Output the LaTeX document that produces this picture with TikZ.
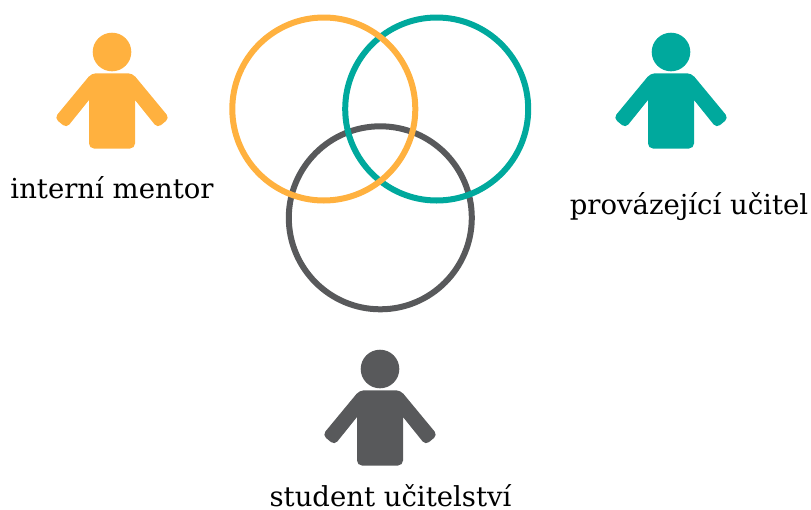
\documentclass[tikz,border=0pt]{standalone}
\usepackage{fontspec}
\setmainfont{Noto Sans}
\newfontfamily\lab{DejaVu Serif}
\definecolor{cO}{HTML}{FFB13F}
\definecolor{cT}{HTML}{00A99D}
\definecolor{cG}{HTML}{58595B}
\tikzset{
  ring/.style={draw=#1,line width=6pt,circle,minimum size=183pt,inner sep=0pt},
  labeltext/.style={font=\lab\fontsize{27.5pt}{32pt}\selectfont,text=black,inner sep=0pt,anchor=base}
}
\newcommand{\person}[3]{%
  \begin{scope}[shift={(#1,-#2)}]
  \fill[#3] (0,0) circle (19.3);
  \fill[#3,rounded corners=4.5] (-20.5,-21.3) -- (20.5,-21.3) -- (57.5,-66) -- (45.5,-76) [sharp corners] -- (23,-48) [rounded corners=5] -- (23,-96.5) -- (-23,-96.5) [sharp corners] -- (-23,-48) [rounded corners=4.5] -- (-45.5,-76) -- (-57.5,-66) -- cycle;
  \end{scope}
}
\begin{document}
\begin{tikzpicture}[x=1pt,y=1pt]
\useasboundingbox (0,0) rectangle (811,-509);
\person{112}{52}{cO}
\person{671}{52}{cT}
\person{380}{369}{cG}
\node[ring=cG] (c) at (380.3,-217.8) {};
\node[ring=cT] (b) at (436.7,-109) {};
\node[ring=cO] (a) at (323.8,-109) {};
\node[labeltext] (la) at (112,-198) {interní mentor};
\node[labeltext] (lb) at (689,-214) {provázející učitel};
\node[labeltext] (lc) at (390.5,-506) {student učitelství};
\end{tikzpicture}
\end{document}
